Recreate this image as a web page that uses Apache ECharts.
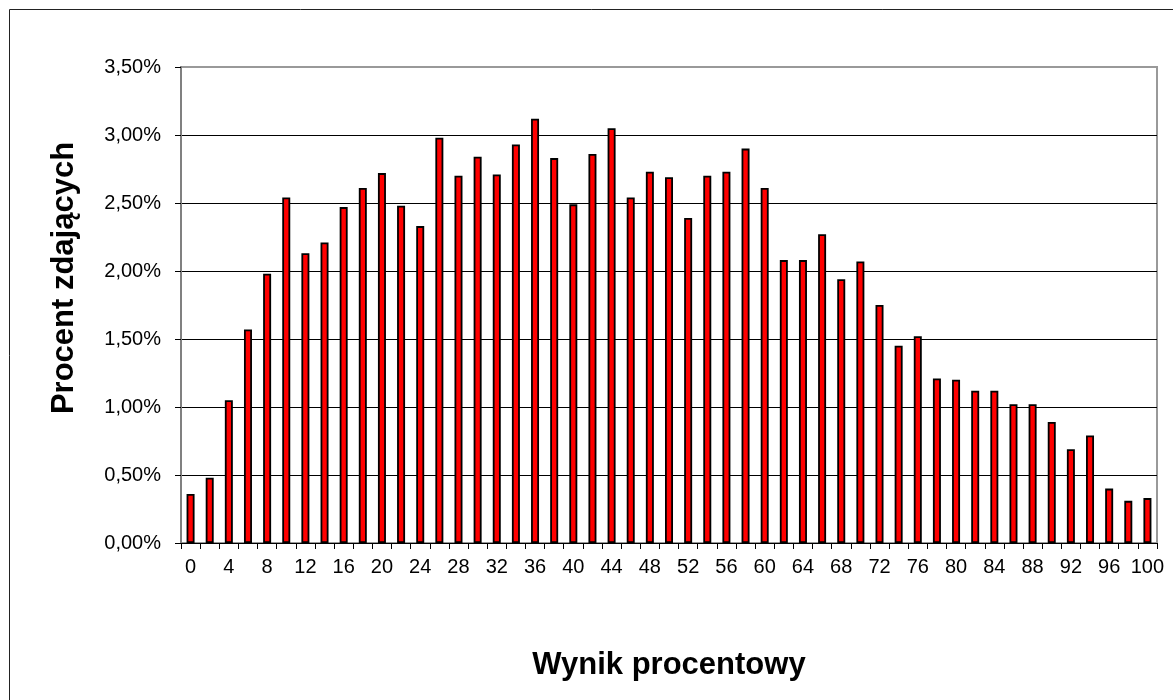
<!DOCTYPE html>
<html>
<head>
<meta charset="utf-8">
<script src="https://cdn.jsdelivr.net/npm/echarts@6/dist/echarts.min.js"></script>
<style>
  html, body { margin: 0; padding: 0; background: #fff; }
  #chart { width: 1173px; height: 700px; }
</style>
</head>
<body>
<div id="chart"></div>
<script>
// Categories: percentage score 0..100 step 2
const categories = ['0','2','4','6','8','10','12','14','16','18','20','22','24','26','28','30','32','34','36','38','40','42','44','46','48','50','52','54','56','58','60','62','64','66','68','70','72','74','76','78','80','82','84','86','88','90','92','94','96','98','100'];
// Percent of test takers (%)
const values = [0.36,0.48,1.05,1.57,1.98,2.54,2.13,2.21,2.47,2.61,2.72,2.48,2.33,2.98,2.70,2.84,2.71,2.93,3.12,2.83,2.49,2.86,3.05,2.54,2.73,2.69,2.39,2.70,2.73,2.90,2.61,2.08,2.08,2.27,1.94,2.07,1.75,1.45,1.52,1.21,1.20,1.12,1.12,1.02,1.02,0.89,0.69,0.79,0.40,0.31,0.33];
const yTitle = 'Procent zdających';
const xTitle = 'Wynik procentowy';

const FONT = '"Liberation Sans", Arial, sans-serif';
const chart = echarts.init(document.getElementById('chart'), null, { renderer: 'canvas' });
chart.setOption({
  animation: false,
  backgroundColor: '#ffffff',
  grid: { left: 181, right: 16, top: 67, bottom: 157, show: true, borderColor: '#999999', borderWidth: 2, backgroundColor: 'transparent' },
  xAxis: {
    type: 'category',
    data: categories,
    boundaryGap: true,
    name: xTitle,
    nameLocation: 'middle',
    nameGap: 107,
    nameTextStyle: { fontFamily: FONT, fontSize: 31, fontWeight: 'bold', color: '#000' },
    axisLine: { show: true, lineStyle: { color: '#000', width: 1 } },
    axisTick: { show: true, interval: 0, length: 6, inside: false, lineStyle: { color: '#000', width: 1 } },
    axisLabel: { interval: 1, fontFamily: FONT, fontSize: 20, color: '#000', margin: 14 },
    splitLine: { show: false }
  },
  yAxis: {
    type: 'value',
    min: 0, max: 3.5, interval: 0.5,
    axisLine: { show: true, lineStyle: { color: '#808080', width: 2 } },
    axisTick: { show: true, length: 6, lineStyle: { color: '#000', width: 1 } },
    axisLabel: {
      fontFamily: FONT, fontSize: 20, color: '#000', margin: 20,
      formatter: v => v.toFixed(2).replace('.', ',') + '%'
    },
    splitLine: { show: true, lineStyle: { color: ['#000','#000','#000','#000','#000','#000','#000','#999'], width: 1 } }
  },
  series: [{
    type: 'bar',
    data: values,
    barWidth: 8,
    itemStyle: { color: '#ff0000', borderColor: '#000', borderWidth: 1.8 }
  }],
  graphic: [
    { type: 'rect', z: 100, silent: true, shape: { x: 9.5, y: 9.5, width: 1300, height: 800 }, style: { fill: 'none', stroke: '#222', lineWidth: 1 } },
    { type: 'text', z: 100, x: 64, y: 278, rotation: Math.PI / 2,
      style: { text: yTitle, font: 'bold 31px ' + FONT, fill: '#000', align: 'center', verticalAlign: 'middle' } }
  ]
});
</script>
</body>
</html>
